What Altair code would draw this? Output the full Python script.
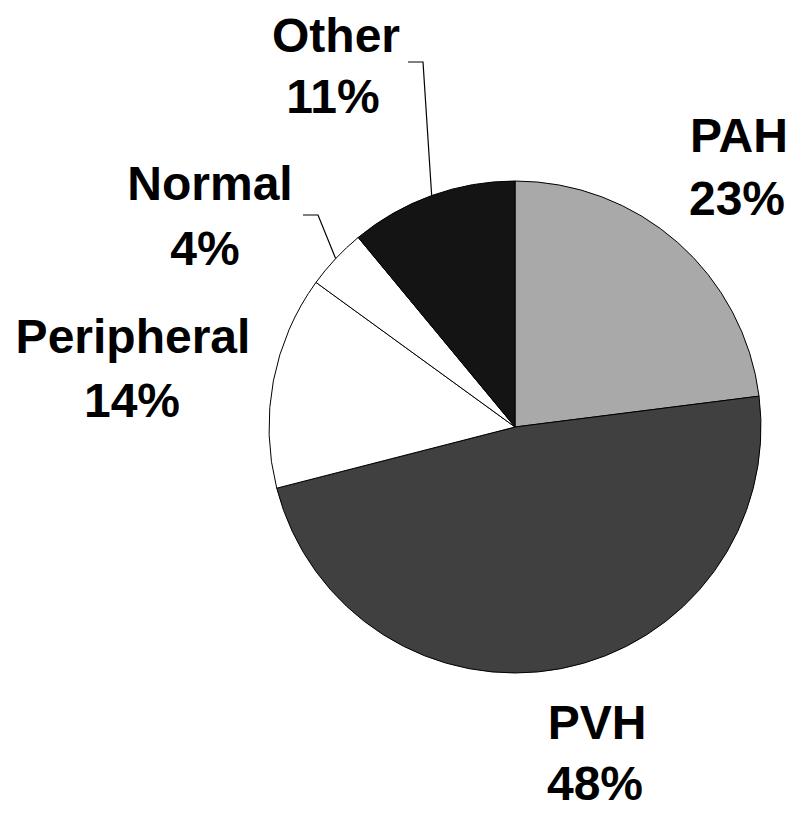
import math
import altair as alt
import pandas as pd

# ---- data ----
categories = ["PAH", "PVH", "Peripheral", "Normal", "Other"]
values = [23, 48, 14, 4, 11]
colors = ["#a9a9a9", "#404040", "#ffffff", "#ffffff", "#141414"]
pct_labels = ["23%", "48%", "14%", "4%", "11%"]

# ---- layout (page pixels) ----
M = 8
CX, CY, R = 515, 427, 246
# label line-1 centre x, baseline y ; line-2 centre x, baseline y
label_pos = {
    "PAH": (739, 152, 737, 215),
    "PVH": (597, 739, 595, 800),
    "Peripheral": (133, 353, 132, 417),
    "Normal": (210, 200, 205, 265),
    "Other": (336, 52, 333, 113),
}
# leader lines: (end x, end y, elbow x, elbow y)
leaders = {
    "Normal": (303, 215, 318, 215),
    "Other": (408, 62, 423, 62),
}

pie_df = pd.DataFrame({"cat": categories, "value": values, "order": list(range(len(values)))})

rows = []
for c, p in zip(categories, pct_labels):
    x1, y1, x2, y2 = label_pos[c]
    rows.append({"t": c, "x": x1 - M, "y": y1 - M})
    rows.append({"t": p, "x": x2 - M, "y": y2 - M})
txt_df = pd.DataFrame(rows)

total = sum(values)
cum = 0
mids = {}
for c, v in zip(categories, values):
    mids[c] = (cum + v / 2) / total * 2 * math.pi
    cum += v

lrows = []
for c, (ex, ey, bx, by) in leaders.items():
    a = mids[c]
    px = CX + R * math.sin(a)
    py = CY - R * math.cos(a)
    lrows += [
        {"g": c, "o": 0, "x": ex - M, "y": ey - M},
        {"g": c, "o": 1, "x": bx - M, "y": by - M},
        {"g": c, "o": 2, "x": px - M, "y": py - M},
    ]
line_df = pd.DataFrame(lrows)

pie = alt.Chart(pie_df).mark_arc(outerRadius=R, stroke="#000000", strokeWidth=1).encode(
    theta=alt.Theta("value:Q", stack=True),
    order=alt.Order("order:Q"),
    color=alt.Color("cat:N", scale=alt.Scale(domain=categories, range=colors), legend=None),
    x=alt.value(CX - M),
    y=alt.value(CY - M),
)

lines = alt.Chart(line_df).mark_line(color="#000000", strokeWidth=1.2).encode(
    x=alt.X("x:Q", scale=None, axis=None),
    y=alt.Y("y:Q", scale=None, axis=None),
    detail="g:N",
    order="o:Q",
)

texts = alt.Chart(txt_df).mark_text(
    font="Liberation Sans", fontWeight="bold", fontSize=48, align="center", baseline="alphabetic", color="#000000"
).encode(
    x=alt.X("x:Q", scale=None, axis=None),
    y=alt.Y("y:Q", scale=None, axis=None),
    text="t:N",
)

chart = alt.layer(pie, lines, texts).properties(
    width=784, height=803, padding=0, autosize=alt.AutoSizeParams(type="none"), background="#ffffff"
).configure_view(stroke=None)

chart.save("out.html", embed_options={"renderer": "svg", "actions": False})
